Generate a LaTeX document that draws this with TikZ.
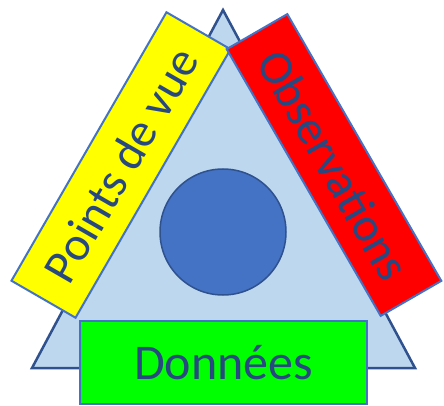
\documentclass[tikz,border=0pt]{standalone}
\usepackage{fontspec}
\setmainfont{Carlito}
\usetikzlibrary{positioning}
\definecolor{trifill}{RGB}{189,215,238}
\definecolor{trieddge}{RGB}{47,82,143}
\definecolor{boxedge}{RGB}{68,114,196}
\definecolor{hubfill}{RGB}{68,114,196}
\definecolor{labelblue}{RGB}{40,72,128}
\definecolor{viewyellow}{RGB}{255,255,0}
\definecolor{obsred}{RGB}{255,0,0}
\definecolor{datagreen}{RGB}{0,255,0}

\begin{document}
\begin{tikzpicture}[x=1pt,y=-1pt,
  sidebox/.style={draw=boxedge,line width=2pt,inner sep=0pt,text=labelblue,font=\fontsize{48}{48}\selectfont},
  hub/.style={circle,draw=trieddge,line width=1.5pt,fill=hubfill,minimum size=126pt,inner sep=0pt}]
\useasboundingbox (0,0) rectangle (444,406);
\coordinate (top) at (223,10);
\coordinate (left) at (32,368);
\coordinate (right) at (415,368);
\draw[fill=trifill,draw=trieddge,line width=2.5pt,line join=miter] (left) -- (top) -- (right) -- cycle;
\node[hub] (core) at (223,232) {};
\node[sidebox,fill=viewyellow,minimum width=310pt,minimum height=74pt,rotate=60] (views) at (121,165) {Points de vue};
\node[sidebox,fill=obsred,minimum width=308pt,minimum height=70pt,rotate=-60] (obs) at (334,165) {Observations};
\node[sidebox,fill=datagreen,minimum width=287pt,minimum height=83pt,font=\fontsize{50}{50}\selectfont] (data) at (223.5,362.5) {Données};
\end{tikzpicture}
\end{document}
